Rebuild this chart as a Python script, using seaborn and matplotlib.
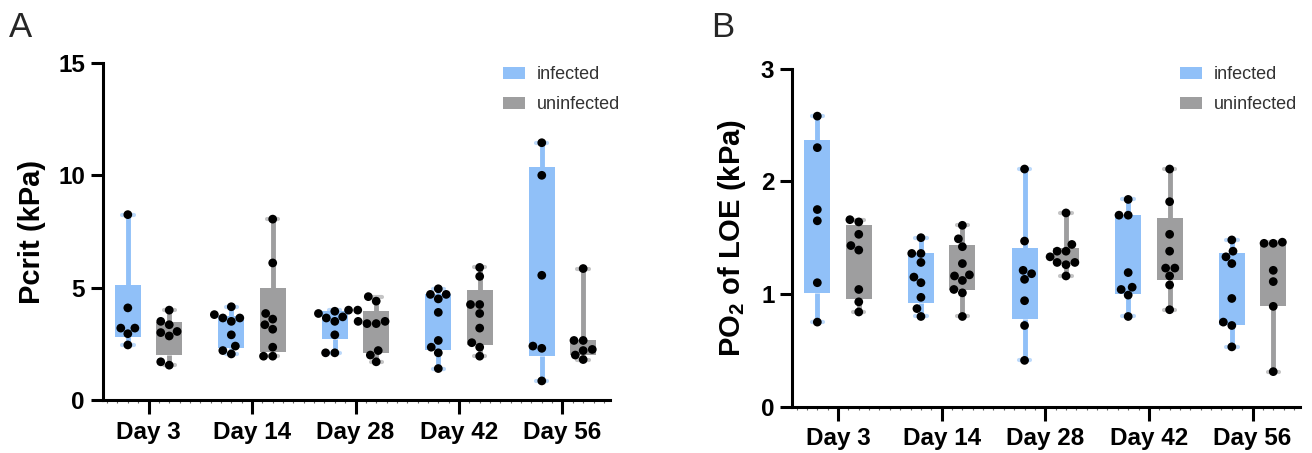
import numpy as np
import pandas as pd
import seaborn as sns
import matplotlib
matplotlib.use("Agg")
import matplotlib.pyplot as plt
from matplotlib.patches import Patch
from matplotlib.path import Path
from matplotlib.ticker import MultipleLocator

# ---------------- data ----------------
days = ["Day 3", "Day 14", "Day 28", "Day 42", "Day 56"]
groups = ["infected", "uninfected"]

pcrit_infected = [
    [8.25, 4.1, 3.2, 3.2, 2.95, 2.45],
    [4.15, 3.8, 3.65, 3.65, 3.5, 2.9, 2.4, 2.2, 2.05],
    [4.0, 4.0, 3.95, 3.85, 3.7, 3.65, 3.5, 2.9, 2.1, 2.1],
    [4.95, 4.7, 4.7, 4.5, 3.9, 2.65, 2.35, 2.1, 1.4],
    [11.45, 10.0, 5.55, 2.4, 2.3, 0.85],
]
pcrit_uninfected = [
    [4.0, 3.5, 3.35, 3.05, 3.0, 2.85, 1.7, 1.55],
    [8.05, 6.1, 3.85, 3.6, 3.35, 3.15, 2.35, 1.95, 1.95],
    [4.6, 4.4, 3.5, 3.5, 3.4, 3.4, 2.2, 2.0, 1.7],
    [5.9, 5.5, 4.25, 4.25, 3.85, 3.2, 2.55, 2.35, 1.95],
    [5.85, 2.65, 2.65, 2.25, 2.2, 2.0, 1.8],
]
loe_infected = [
    [2.58, 2.3, 1.75, 1.65, 1.1, 0.75],
    [1.5, 1.36, 1.36, 1.28, 1.15, 1.1, 0.97, 0.87, 0.8],
    [2.11, 1.47, 1.21, 1.18, 1.13, 0.94, 0.72, 0.41],
    [1.84, 1.7, 1.7, 1.19, 1.06, 1.04, 0.99, 0.8],
    [1.48, 1.38, 1.33, 1.27, 0.96, 0.75, 0.72, 0.53],
]
loe_uninfected = [
    [1.66, 1.64, 1.53, 1.43, 1.39, 1.04, 0.93, 0.84],
    [1.61, 1.49, 1.42, 1.27, 1.17, 1.16, 1.12, 1.04, 1.01, 0.8],
    [1.72, 1.44, 1.38, 1.38, 1.33, 1.28, 1.28, 1.26, 1.16],
    [2.11, 1.82, 1.53, 1.38, 1.23, 1.23, 1.16, 1.08, 0.86],
    [1.46, 1.45, 1.45, 1.21, 1.11, 0.89, 0.31],
]

colors = ["#90C0F8", "#9E9E9F"]

# ---------------- style ----------------
sns.set_theme(style="ticks")
plt.rcParams["font.family"] = ["Liberation Sans", "DejaVu Sans"]
plt.rcParams["mathtext.fontset"] = "custom"
plt.rcParams["mathtext.rm"] = "Liberation Sans"
plt.rcParams["mathtext.bf"] = "Liberation Sans:bold"


def make_df(inf, uninf):
    rows = []
    for g, series in zip(groups, [inf, uninf]):
        for d, vals in zip(days, series):
            for v in vals:
                rows.append({"day": d, "group": g, "value": v})
    return pd.DataFrame(rows)


def draw(ax, inf, uninf, ylim, yticks, ylabel, leg_xy):
    df = make_df(inf, uninf)
    sns.boxplot(data=df, x="day", y="value", hue="group", order=days,
                hue_order=groups, palette=colors, width=0.8, gap=0.375,
                whis=(0, 100), linewidth=3.5, showfliers=False,
                legend=False, ax=ax)
    series = [inf, uninf]
    for cont, c, ser in zip(ax.containers, colors, series):
        for i, b in enumerate(cont.boxes):
            q1, q3 = np.percentile(ser[i], [25, 75], method="weibull")
            p = b.get_path()
            v = p.vertices.copy()
            ymid = (v[:, 1].min() + v[:, 1].max()) / 2
            v[:, 1] = np.where(v[:, 1] < ymid, q1, q3)
            b.set_path(Path(v, p.codes))
            b.set_facecolor(c)
            b.set_edgecolor(c)
            b.set_linewidth(0)
            lo, hi = cont.whiskers[2 * i], cont.whiskers[2 * i + 1]
            lo.set_ydata([q1, lo.get_ydata()[1]])
            hi.set_ydata([q3, hi.get_ydata()[1]])
        for w in cont.whiskers:
            w.set_color(c)
            w.set_linewidth(3.5)
            w.set_solid_capstyle("butt")
        for cap in cont.caps:
            xd = cap.get_xdata()
            mid = (xd[0] + xd[1]) / 2
            cap.set_xdata([mid - 0.055, mid + 0.055])
            cap.set_color(c)
            cap.set_alpha(0.6)
            cap.set_linewidth(3)
        for m in cont.medians:
            m.set_visible(False)

    sns.swarmplot(data=df, x="day", y="value", hue="group", order=days,
                  hue_order=groups, dodge=True, palette=["black", "black"],
                  size=6.3, legend=False, ax=ax)

    ax.set_xlim(-0.44, 4.46)
    ax.set_ylim(*ylim)
    ax.set_yticks(yticks)
    sns.despine(ax=ax)
    for s in ["left", "bottom"]:
        ax.spines[s].set_linewidth(2.2)
        ax.spines[s].set_color("black")
    ax.xaxis.set_minor_locator(MultipleLocator(0.1))
    ax.tick_params(axis="x", which="major", length=10, width=2.2,
                   labelsize=17.5, pad=5, color="black", labelcolor="black")
    ax.tick_params(axis="x", which="minor", length=2, width=0.8, color="#666666")
    ax.tick_params(axis="y", which="major", length=9, width=2.2,
                   labelsize=17.5, pad=4, color="black", labelcolor="black")
    for lbl in ax.get_xticklabels() + ax.get_yticklabels():
        lbl.set_fontweight("bold")
    ax.set_xlabel("")
    ax.set_ylabel(ylabel, fontsize=21, fontweight="bold", labelpad=9,
                  color="black")

    handles = [Patch(facecolor=c, edgecolor="none") for c in colors]
    ax.legend(handles, groups, loc="upper left", bbox_to_anchor=leg_xy,
              frameon=False, fontsize=13, handlelength=1.22,
              handleheight=0.62, handletextpad=0.66, labelspacing=0.72,
              borderpad=0, borderaxespad=0, labelcolor="#333333")


fig = plt.figure(figsize=(13.12, 4.53), dpi=100)
axA = fig.add_axes([0.0785, 0.117, 0.3865, 0.744])
axB = fig.add_axes([0.604, 0.1026, 0.387, 0.7454])

draw(axA, pcrit_infected, pcrit_uninfected, (0, 15), [0, 5, 10, 15],
     "Pcrit (kPa)", (0.788, 0.99))
draw(axB, loe_infected, loe_uninfected, (0, 3), [0, 1, 2, 3],
     r"PO$_{\mathbf{2}}$ of LOE (kPa)", (0.763, 1.008))

fig.text(0.007, 0.975, "A", fontsize=25, va="top", ha="left")
fig.text(0.542, 0.975, "B", fontsize=25, va="top", ha="left")

fig.savefig("out.png", dpi=100)
